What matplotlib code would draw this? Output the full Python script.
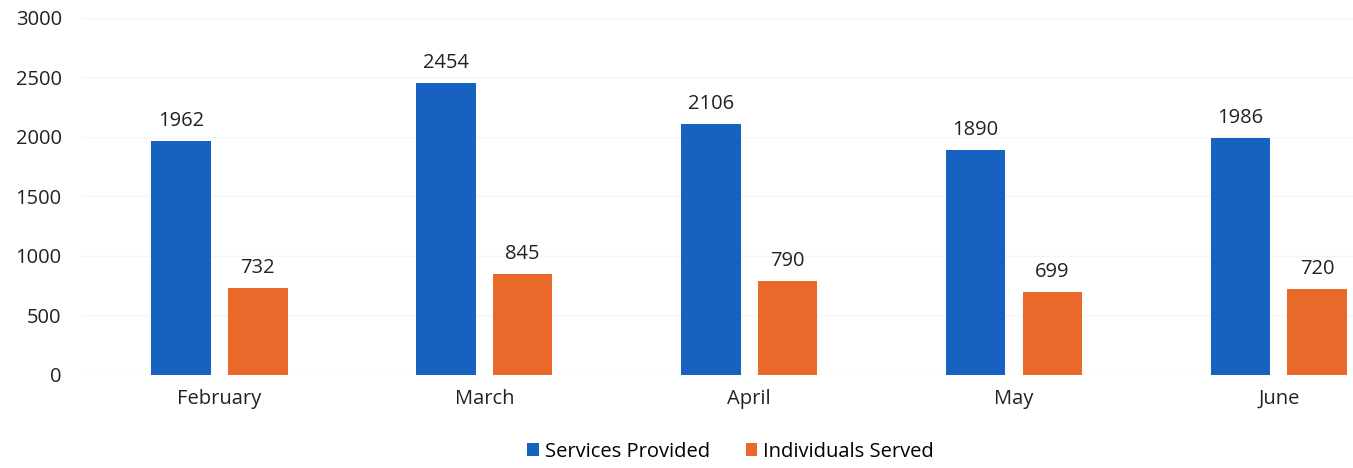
import matplotlib.pyplot as plt
import numpy as np

months = ["February", "March", "April", "May", "June"]
services = [1962, 2454, 2106, 1890, 1986]
individuals = [732, 845, 790, 699, 720]

plt.rcParams['font.family'] = ['Open Sans', 'DejaVu Sans']

fig = plt.figure(figsize=(13.53, 4.68), dpi=100)
ax = fig.add_axes([0.06, 0.199, 0.94, 0.763])

x = np.arange(len(months))
w = 0.225
off = 0.145
b1 = ax.bar(x - off, services, w, color='#1762c0', label='Services Provided')
b2 = ax.bar(x + off, individuals, w, color='#e8692a', label='Individuals Served')

for bars in (b1, b2):
    for rect in bars:
        ax.text(rect.get_x() + rect.get_width() / 2, rect.get_height() + 85,
                str(int(rect.get_height())), ha='center', va='bottom',
                fontsize=14.5, color='#222222')

ax.set_ylim(0, 3000)
ax.set_xlim(-0.522, 4.28)
ax.set_yticks(range(0, 3001, 500))
ax.set_xticks(x)
ax.set_xticklabels(months)
ax.tick_params(axis='both', length=0, labelsize=14.5, colors='#222222')
ax.tick_params(axis='x', pad=10)
ax.tick_params(axis='y', pad=14)
ax.yaxis.grid(True, color='#f5f5f5', linewidth=1)
ax.set_axisbelow(True)
for s in ax.spines.values():
    s.set_visible(False)

fig.legend(loc='lower center', bbox_to_anchor=(0.54, -0.025), ncol=2, frameon=False,
           fontsize=14.5, handlelength=0.55, handleheight=0.55, handletextpad=0.3,
           columnspacing=1.8)

fig.savefig('out.png', dpi=100)
